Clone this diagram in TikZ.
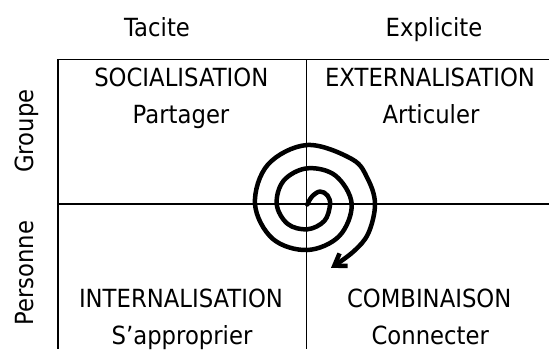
\documentclass[tikz,border=0pt]{standalone}
\usepackage{fontspec}
\setmainfont{DejaVu Sans}[FakeStretch=0.91]
\usetikzlibrary{arrows.meta}
\begin{document}
\begin{tikzpicture}[x=1pt,y=-1pt,
  lbl/.style={anchor=base,inner sep=0pt,font=\fontsize{25}{30}\selectfont},
  side/.style={lbl,rotate=90},
  border/.style={line width=1.8pt},
  inner/.style={line width=1.1pt},
  spiral/.style={line width=4.5pt,line cap=round,line join=round,-{Straight Barb[length=11pt,width=15pt]}}]
\useasboundingbox (0,0) rectangle (549,349);
% grid coordinates
\coordinate (tl) at (58,59.5);
\coordinate (tr) at (549,59.5);
\coordinate (bl) at (58,349);
\coordinate (mt) at (306.7,59.5);
\coordinate (mb) at (306.7,349);
\coordinate (ml) at (58,204);
\coordinate (mr) at (549,204);
\draw[border] (tr) -- (tl) -- (bl);
\draw[inner] (mt) -- (mb);
\draw[inner] (ml) -- (mr);
% headers
\node[lbl] (tacite) at (157,36) {Tacite};
\node[lbl] (explicite) at (434,36) {Explicite};
\node[side] (groupe) at (33,131) {Groupe};
\node[side] (personne) at (33,273.3) {Personne};
% quadrants
\node[lbl] (soc) at (181.3,86.7) {SOCIALISATION};
\node[lbl] (soc2) at (181,123.3) {Partager};
\node[lbl] (ext) at (430,86.7) {EXTERNALISATION};
\node[lbl] (ext2) at (431,123.3) {Articuler};
\node[lbl] (int) at (181,307.3) {INTERNALISATION};
\node[lbl] (int2) at (182,344) {S’approprier};
\node[lbl] (com) at (429.2,307.3) {COMBINAISON};
\node[lbl] (com2) at (430.3,344) {Connecter};
% spiral
\draw[spiral] plot[smooth,tension=0.6] coordinates {
 (307.3,204.5) (312,196.5) (320,191.5) (327.5,195.5) (330,205) (324.3,221)
 (307.3,229.3) (287.5,223.8) (276.7,204) (283.8,180.5) (307.3,168.3)
 (335.6,175.7) (351.7,204) (339.3,236) (307.3,250) (272.6,238.7) (255,204)
 (267.9,164.6) (307.3,145) (352.1,159.2) (367.8,179) (375,204) (368.3,233.3) (353.3,251.7) (331,267.8)};
\end{tikzpicture}
\end{document}
